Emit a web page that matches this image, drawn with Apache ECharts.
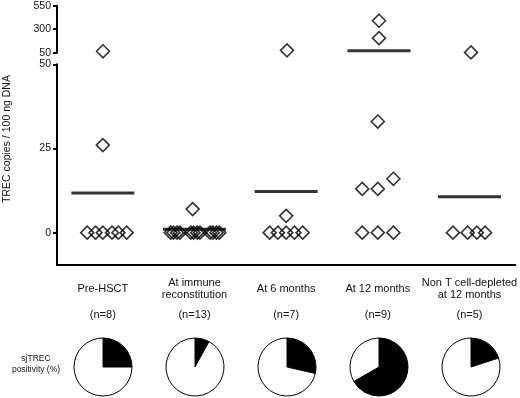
<!DOCTYPE html>
<html><head><meta charset="utf-8">
<script src="https://cdn.jsdelivr.net/npm/echarts@6/dist/echarts.min.js"></script>
<style>html,body{margin:0;padding:0;background:#fff}#c{width:520px;height:398px}</style>
</head><body><div id="c"></div>
<script>
// ---- data ----
const categories = ['Pre-HSCT', 'At immune\nreconstitution', 'At 6 months', 'At 12 months', 'Non T cell-depleted\nat 12 months'];
const nCounts = [8, 13, 7, 9, 5];
const trecPreHSCT = [65, 26, 0, 0, 0, 0, 0, 0];
const trecImmune = [7, 0, 0, 0, 0, 0, 0, 0, 0, 0, 0, 0, 0];
const trec6m = [75, 5, 0, 0, 0, 0, 0];
const trec12m = [390, 205, 33, 13, 13, 16, 0, 0, 0];
const trecNonT = [53, 0, 0, 0, 0];
// horizontal spread of overlapping points (in category widths)
const spreadPreHSCT = [0, 0, -0.17, -0.08, 0, 0.1, 0.17, 0.26];
const spreadImmune = [-0.02, -0.26, -0.23, -0.19, -0.16, -0.04, -0.01, 0.03, 0.06, 0.17, 0.2, 0.24, 0.27];
const spread6m = [0, 0, -0.18, -0.09, 0, 0.09, 0.18];
const spread12m = [0, 0, 0, -0.17, 0, 0.17, -0.17, 0, 0.17];
const spreadNonT = [0, -0.18, -0.02, 0.08, 0.17];
const meanValues = [11.8, 1, 12.2, 71, 10.7];
const positivity = [25, 8, 28.6, 66.7, 20];
const lowerTicks = [0, 25, 50];
const upperTicks = [50, 300, 550];

const trecValues = [trecPreHSCT, trecImmune, trec6m, trec12m, trecNonT];
const spreads = [spreadPreHSCT, spreadImmune, spread6m, spread12m, spreadNonT];

// ---- layout ----
const FONT = "'Liberation Sans', Arial, Helvetica, sans-serif";
const TXT = '#111';
const GL = 57, GR = 3, W = 520 - GL - GR;
const BREAK = 50;

function pts(filter) {
  const out = [];
  trecValues.forEach((arr, i) => arr.forEach((v, j) => { if (filter(v)) out.push([i + spreads[i][j], v]); }));
  return out;
}
const lowPts = pts(v => v <= BREAK), highPts = pts(v => v > BREAK);
const lowMeans = meanValues.map((m, i) => [i, m]).filter(d => d[1] <= BREAK);
const highMeans = meanValues.map((m, i) => [i, m]).filter(d => d[1] > BREAK);

const axisLineStyle = { color: '#000', width: 2 };
const yLabel = { color: TXT, fontFamily: FONT, fontSize: 10.5, margin: 6 };

const diamond = {
  type: 'scatter', symbol: 'diamond', symbolSize: [13, 13], clip: false,
  itemStyle: { color: 'rgba(0,0,0,0)', borderColor: '#000', borderWidth: 1.6 },
  emphasis: { disabled: true }
};
const meanBar = {
  type: 'scatter', symbol: 'rect', symbolSize: [63, 3], clip: false, z: 3,
  itemStyle: { color: '#000' }, emphasis: { disabled: true }
};

const pies = positivity.map((p, i) => ({
  type: 'pie', radius: 29, center: [GL + W * (i + 0.5) / categories.length, 367],
  startAngle: 90, clockwise: true, silent: true, label: { show: false }, labelLine: { show: false },
  itemStyle: { borderColor: '#000', borderWidth: 1 },
  emphasis: { disabled: true },
  data: [
    { value: p, itemStyle: { color: '#000' } },
    { value: 100 - p, itemStyle: { color: '#fff' } }
  ]
}));

const option = {
  animation: false,
  backgroundColor: '#fff',
  grid: [
    { left: GL, right: GR, top: 64.3, height: 200.7 },
    { left: GL, right: GR, top: 5.7, height: 47 }
  ],
  xAxis: [
    { type: 'category', gridIndex: 0, data: categories, position: 'bottom',
      axisLine: { onZero: false, lineStyle: axisLineStyle }, axisTick: { show: false }, splitLine: { show: false },
      axisLabel: { interval: 0, color: TXT, fontFamily: FONT, fontSize: 11, lineHeight: 12.5,
        margin: 24, verticalAlign: 'middle', align: 'center' } },
    { type: 'category', gridIndex: 0, data: nCounts.map(n => '(n=' + n + ')'), position: 'bottom',
      axisLine: { show: false, onZero: false }, axisTick: { show: false }, splitLine: { show: false },
      axisLabel: { interval: 0, color: TXT, fontFamily: FONT, fontSize: 11, margin: 50, verticalAlign: 'middle' } },
    { type: 'value', gridIndex: 0, min: -0.5, max: categories.length - 0.5, show: false, axisLine: { onZero: false } },
    { type: 'value', gridIndex: 1, min: -0.5, max: categories.length - 0.5, show: false, axisLine: { onZero: false } }
  ],
  yAxis: [
    { type: 'value', gridIndex: 0, min: -9.6, max: 50, position: 'left',
      axisLine: { show: true, onZero: false, lineStyle: axisLineStyle },
      axisTick: { show: true, length: 4, lineStyle: { color: '#000', width: 2 }, customValues: lowerTicks },
      axisLabel: Object.assign({ customValues: lowerTicks }, yLabel),
      splitLine: { show: false } },
    { type: 'value', gridIndex: 1, min: 50, max: 550, position: 'left',
      axisLine: { show: true, onZero: false, lineStyle: axisLineStyle },
      axisTick: { show: true, length: 4, lineStyle: { color: '#000', width: 2 }, customValues: upperTicks },
      axisLabel: Object.assign({ customValues: upperTicks }, yLabel),
      splitLine: { show: false } }
  ],
  graphic: [
    { type: 'text', x: 7, y: 139, rotation: Math.PI / 2,
      style: { text: 'TREC copies / 100 ng DNA', fill: TXT, font: '10.5px ' + FONT, align: 'center', verticalAlign: 'middle' } },
    { type: 'text', x: 36, y: 364,
      style: { text: 'sjTREC\npositivity (%)', fill: TXT, font: '8.5px ' + FONT, lineHeight: 11, align: 'center', verticalAlign: 'middle' } }
  ],
  series: [
    Object.assign({}, diamond, { xAxisIndex: 2, yAxisIndex: 0, data: lowPts }),
    Object.assign({}, diamond, { xAxisIndex: 3, yAxisIndex: 1, data: highPts }),
    Object.assign({}, meanBar, { xAxisIndex: 2, yAxisIndex: 0, data: lowMeans }),
    Object.assign({}, meanBar, { xAxisIndex: 3, yAxisIndex: 1, data: highMeans })
  ].concat(pies)
};
const chart = echarts.init(document.getElementById('c'));
chart.setOption(option);
</script>
</body></html>
